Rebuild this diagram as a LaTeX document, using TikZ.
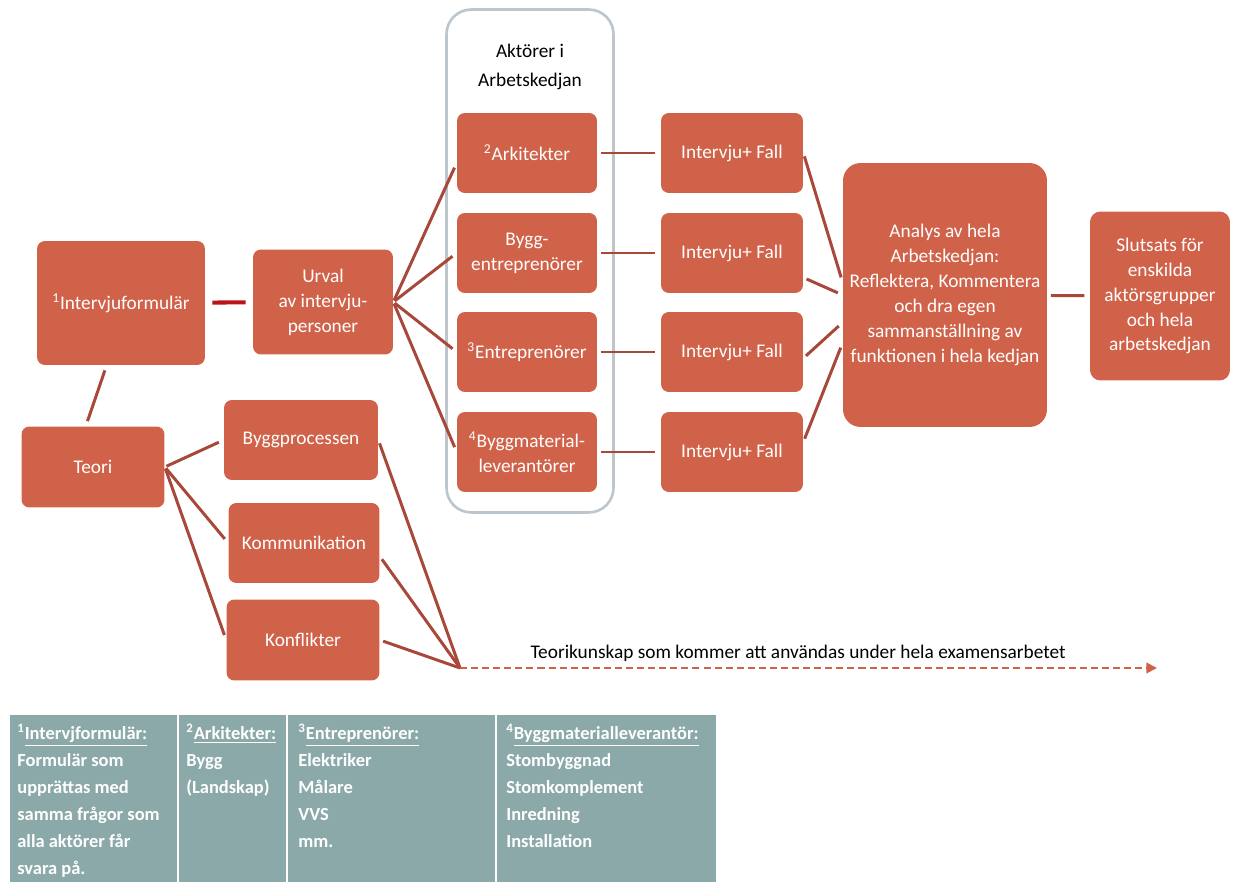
\documentclass[tikz,border=0pt]{standalone}
\usepackage{fontspec}
\setmainfont{Carlito}
\usepackage{xcolor}
\usepackage{tikz}
\usetikzlibrary{positioning,arrows.meta,calc}
\definecolor{boxred}{RGB}{209,98,74}
\definecolor{linkred}{RGB}{168,72,58}
\definecolor{darklink}{RGB}{185,20,25}
\definecolor{tabteal}{RGB}{139,169,169}
\definecolor{framegray}{RGB}{188,198,204}

\begin{document}
\begin{tikzpicture}[x=0.02cm, y=-0.02cm,
      box/.style={fill=boxred, rounded corners=4.5pt, text=white, align=center, inner sep=2pt,
                  font=\fontsize{11}{14.2}\selectfont},
      akt/.style={box, minimum width=2.8cm, minimum height=1.6cm},
      ifbox/.style={box, minimum width=2.84cm, minimum height=1.6cm},
      link/.style={draw=linkred, line width=1.7pt, shorten <=2pt, shorten >=3pt},
      cell/.style={anchor=north west, align=left, text=white, inner sep=0pt,
                   font=\bfseries\fontsize{10.5}{15.3}\selectfont}]
    \useasboundingbox (0,0) rectangle (1241,882);

    \node[box, minimum width=3.36cm, minimum height=2.48cm] (form) at (121,303)
         {\textsuperscript{1}Intervjuformulär};
    \node[box, minimum width=2.8cm, minimum height=2.1cm] (urval) at (323,302)
         {Urval\\av intervju-\\personer};
    \node[box, minimum width=2.86cm, minimum height=1.62cm] (teori) at (93,467) {Teori};
    \node[box, minimum width=3.08cm, minimum height=1.6cm] (bp) at (301,440) {Byggprocessen};
    \node[box, minimum width=3.02cm, minimum height=1.6cm] (komm) at (304,543) {Kommunikation};
    \node[box, minimum width=3.06cm, minimum height=1.62cm] (konf) at (303,640) {Konflikter};

    \node[draw=framegray, line width=1.5pt, fill=white, rounded corners=14pt,
          minimum width=3.34cm, minimum height=10.06cm] (kedja) at (530,261) {};
    \node[align=center, font=\fontsize{11}{17}\selectfont] (rubrik) at (530,67)
         {Aktörer i\\Arbetskedjan};
    \node[akt] (ark) at (527,153) {\textsuperscript{2}Arkitekter};
    \node[akt] (bent) at (527,253) {Bygg-\\entreprenörer};
    \node[akt] (entr) at (527,352) {\textsuperscript{3}Entreprenörer};
    \node[akt] (bmat) at (527,452) {\textsuperscript{4}Byggmaterial-\\leverantörer};

    \node[ifbox] (if1) at (732,153) {Intervju+ Fall};
    \node[ifbox] (if2) at (732,253) {Intervju+ Fall};
    \node[ifbox] (if3) at (732,352) {Intervju+ Fall};
    \node[ifbox] (if4) at (732,452) {Intervju+ Fall};

    \node[box, rounded corners=10pt, minimum width=4.08cm, minimum height=5.28cm] (an) at (945,295)
         {Analys av hela\\Arbetskedjan:\\Reflektera, Kommentera\\och dra egen\\sammanställning av\\funktionen i hela kedjan};
    \node[box, rounded corners=6pt, minimum width=2.8cm, minimum height=3.38cm] (slut) at (1160,296)
         {Slutsats för\\enskilda\\aktörsgrupper\\och hela\\arbetskedjan};

    \draw[link, draw=darklink, line width=2.3pt, shorten <=4pt, shorten >=4pt] (form) -- (urval);
    \draw[link, shorten <=3pt] (form.257) -- (teori.100);
    \draw[link, shorten <=1pt] (urval.east) -- (ark.188);
    \draw[link, shorten <=1pt] (urval.east) -- (bent.west);
    \draw[link, shorten <=1pt] (urval.east) -- (entr.west);
    \draw[link, shorten <=1pt] (urval.east) -- (bmat.west);
    \draw[link] (ark) -- (if1);
    \draw[link] (bent) -- (if2);
    \draw[link] (entr) -- (if3);
    \draw[link] (bmat) -- (if4);
    \draw[link] (if1.east) -- (an.173);
    \draw[link] (if2.341) -- (an.west);
    \draw[link] (if3.355) -- (an.195);
    \draw[link] (if4.8) -- (an.205);
    \draw[link] (an) -- (slut);

    \draw[link, shorten <=1pt] (teori.east) -- (bp.west);
    \draw[link, shorten <=1pt] (teori.east) -- (komm.west);
    \draw[link, shorten <=1pt] (teori.east) -- (konf.west);
    \coordinate (meet) at (460,668);
    \coordinate (tip) at (1157,668);
    \draw[link, shorten >=0pt] (bp.east) -- (meet);
    \draw[link, shorten >=0pt] (komm.350) -- (meet);
    \draw[link, shorten >=0pt] (konf.east) -- (meet);
    \draw[boxred, line width=1.1pt, dash pattern=on 4pt off 2.3pt, -{Triangle[length=6pt, width=6pt]}]
         (meet) -- node[pos=0.485, above, text=black, font=\fontsize{11}{13}\selectfont]
         {Teorikunskap som kommer att användas under hela examensarbetet} (tip);

    \fill[tabteal] (10,715) rectangle (716,882);
    \draw[white, line width=1.2pt] (178,715) -- (178,882) (287,715) -- (287,882) (496,715) -- (496,882);
    \node[cell] (t1) at (17,724)
         {\textsuperscript{1}\underline{Intervjformulär:}\\Formulär som\\upprättas med\\samma frågor som\\alla aktörer får\\svara på.};
    \node[cell] (t2) at (186,724)
         {\textsuperscript{2}\underline{Arkitekter:}\\Bygg\\(Landskap)};
    \node[cell] (t3) at (298,724)
         {\textsuperscript{3}\underline{Entreprenörer:}\\Elektriker\\Målare\\VVS\\mm.};
    \node[cell] (t4) at (506,724)
         {\textsuperscript{4}\underline{Byggmaterialleverantör:}\\Stombyggnad\\Stomkomplement\\Inredning\\Installation};
  \end{tikzpicture}
\end{document}
